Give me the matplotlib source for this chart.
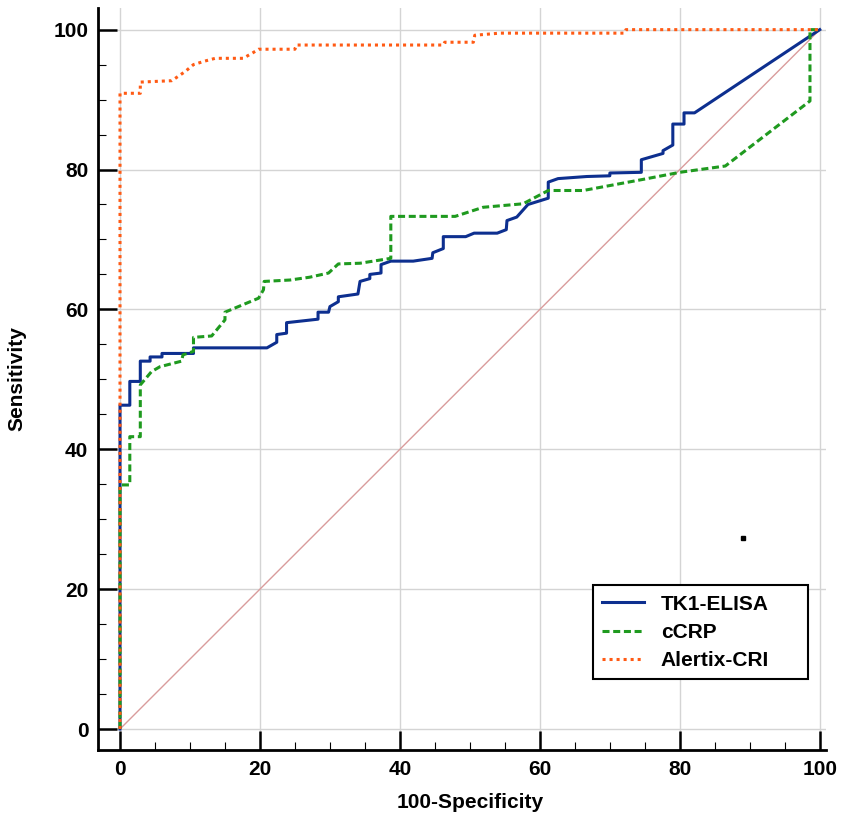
import matplotlib
matplotlib.use('Agg')
import matplotlib.pyplot as plt

plt.rcParams['font.family'] = ['Liberation Sans', 'DejaVu Sans']

# ROC curve points
tk1_x = [0, 0, 1.4, 1.4, 2.9, 2.9, 4.3, 4.3, 6.0, 6.0, 10.5, 10.5, 21.0, 22.4, 22.4,
         23.8, 23.8, 28.3, 28.3, 29.8, 30.0, 31.2, 31.2, 34.0, 34.3, 35.7, 35.7,
         37.3, 37.3, 38.7, 41.9, 44.6, 44.7, 46.2, 46.2, 49.4, 50.6, 53.9, 55.2,
         55.3, 56.7, 58.3, 61.2, 61.2, 62.6, 66.7, 70.0, 70.0, 74.5, 74.5, 77.6,
         77.6, 79.0, 79.0, 80.6, 80.6, 82.1, 100]
tk1_y = [0, 46.3, 46.3, 49.7, 49.7, 52.6, 52.6, 53.2, 53.2, 53.7, 53.7, 54.5, 54.5, 55.3, 56.4,
         56.6, 58.1, 58.6, 59.6, 59.6, 60.4, 61.1, 61.8, 62.2, 64.0, 64.4, 65.0,
         65.2, 66.4, 66.9, 66.9, 67.3, 68.1, 68.7, 70.4, 70.4, 70.9, 70.9, 71.4,
         72.7, 73.2, 75.0, 75.9, 78.2, 78.7, 79.0, 79.1, 79.5, 79.6, 81.4, 82.3,
         82.7, 83.5, 86.5, 86.5, 88.1, 88.1, 100]

crp_x = [0, 0, 1.4, 1.4, 2.9, 2.9, 4.5, 5.7, 8.8, 9.0, 10.5, 10.5, 13.1, 15.0, 15.0,
         19.8, 20.5, 20.6, 24.3, 27.1, 29.8, 31.2, 34.3, 38.7, 38.7, 47.9, 51.9,
         57.6, 61.2, 66.2, 74.8, 80.0, 86.5, 98.6, 98.6, 100]
crp_y = [0, 34.9, 34.9, 41.8, 41.8, 49.2, 51.1, 51.8, 52.6, 53.5, 54.0, 56.0, 56.2, 58.5, 59.6,
         61.6, 62.8, 64.0, 64.2, 64.6, 65.2, 66.5, 66.6, 67.3, 73.3, 73.3, 74.6,
         75.1, 77.0, 77.0, 78.6, 79.6, 80.5, 89.8, 100, 100]

cri_x = [0, 0, 2.9, 2.9, 7.4, 9.3, 10.5, 12.1, 13.6, 17.6, 19.0, 19.8, 25.0, 25.2,
         46.2, 46.4, 50.5, 50.7, 54.3, 72.1, 72.3, 100]
cri_y = [0, 90.9, 90.9, 92.5, 92.7, 94.0, 95.0, 95.5, 95.9, 95.9, 96.7, 97.2, 97.2, 97.8,
         97.8, 98.2, 98.2, 99.2, 99.5, 99.5, 100, 100]

ref_x = [0, 100]
ref_y = [0, 100]

blue = '#0d2f8f'
green = '#1f9a1f'
orange = '#ff5a14'

fig = plt.figure(figsize=(8.51, 8.21), dpi=100)
ax = fig.add_axes([0.1152, 0.0865, 0.8555, 0.9038])

ax.plot(ref_x, ref_y, color='#d99c9c', linewidth=1.0, zorder=2)
ax.plot(tk1_x, tk1_y, color=blue, linewidth=2.2, label='TK1-ELISA', zorder=3)
ax.plot(crp_x, crp_y, color=green, linewidth=2.2, dashes=(2.3, 1.2), label='cCRP', zorder=4)
ax.plot(cri_x, cri_y, color=orange, linewidth=2.2, linestyle=(0, (1, 1.3)),
        label='Alertix-CRI', zorder=5)
ax.plot([89], [27.3], marker='s', color='black', markersize=3, linestyle='none')

ax.set_xlim(-3.14, 100.9)
ax.set_ylim(-3.0, 103.1)
ax.set_xticks(range(0, 101, 20))
ax.set_yticks(range(0, 101, 20))
ax.set_xticks(range(0, 101, 5), minor=True)
ax.set_yticks(range(0, 101, 5), minor=True)
ax.grid(True, which='major', color='#d4d4d4', linewidth=1.0, zorder=0)
ax.set_axisbelow(True)

for s in ['top', 'right']:
    ax.spines[s].set_visible(False)
for s in ['left', 'bottom']:
    ax.spines[s].set_linewidth(2.0)
    ax.spines[s].set_color('black')

ax.tick_params(which='major', direction='in', length=14, width=1.8, pad=7,
               labelsize=15)
ax.tick_params(which='minor', direction='in', length=6, width=0.8)
for lab in ax.get_xticklabels() + ax.get_yticklabels():
    lab.set_fontweight('bold')

ax.set_xlabel('100-Specificity', fontsize=15, fontweight='bold')
ax.set_ylabel('Sensitivity', fontsize=15, fontweight='bold')
ax.xaxis.set_label_coords(0.511, -0.058)
ax.yaxis.set_label_coords(-0.099, 0.5)

leg = ax.legend(loc='upper left', bbox_to_anchor=(0.680, 0.094, 0.295, 0.128),
                mode='expand', fontsize=15, fancybox=False, framealpha=1,
                edgecolor='black', handlelength=2.0, handletextpad=0.8,
                labelspacing=0.44, borderpad=0.45, borderaxespad=0)
leg.get_frame().set_linewidth(1.5)
for t in leg.get_texts():
    t.set_fontweight('bold')

fig.savefig('out.png', dpi=100)
